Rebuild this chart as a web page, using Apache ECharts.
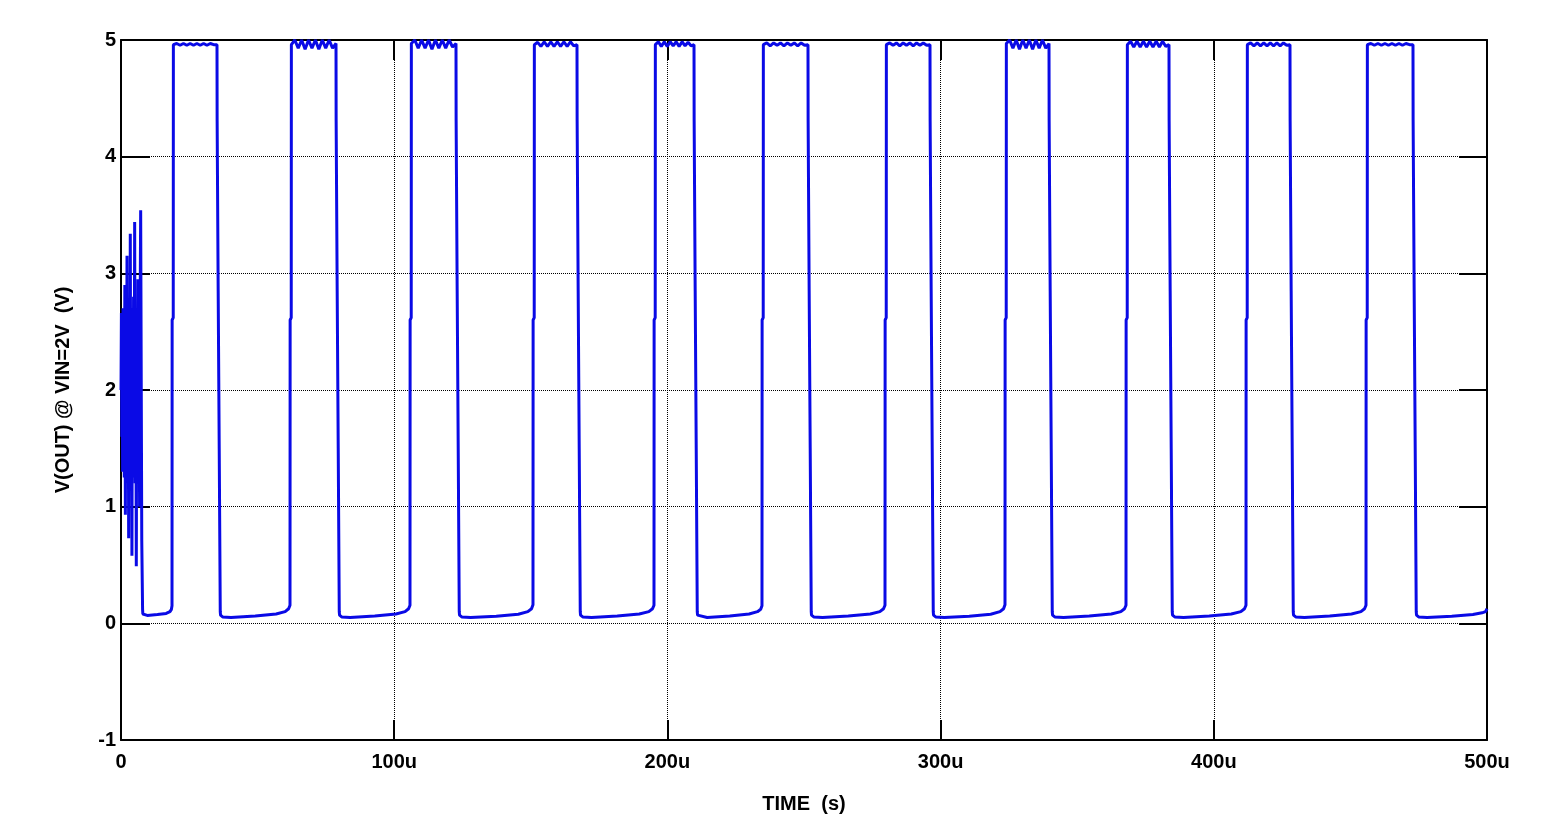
<!DOCTYPE html>
<html>
<head>
<meta charset="utf-8">
<title>V(OUT) @ VIN=2V</title>
<script src="https://cdn.jsdelivr.net/npm/echarts@6/dist/echarts.min.js"></script>
<style>
  html, body { margin: 0; background: #fff; }
  #chart { width: 1551px; height: 836px; }
</style>
</head>
<body>
<div id="chart"></div>
<script>
// axis ticks (time in µs, volts)
const timeTicks = [0, 100, 200, 300, 400, 500]
const voltTicks = [-1, 0, 1, 2, 3, 4, 5]

// start-up ringing
const startT = [0, 0.15, 0.3, 0.45, 0.6, 0.75, 0.9, 1.05, 1.2, 1.4, 1.6, 1.8, 2.0, 2.2, 2.4, 2.6, 2.8, 3.0, 3.2, 3.4,
  3.6, 3.8, 4.0, 4.2, 4.4, 4.6, 4.8, 5.0, 5.2, 5.4, 5.6, 5.8, 6.0, 6.2, 6.4, 6.6, 6.8, 7.0, 7.2, 7.6, 7.9]
const startV = [2.0, 2.66, 1.6, 2.5, 1.3, 2.7, 1.45, 2.6, 1.25, 2.9, 0.93, 2.7, 1.2, 3.15, 1.35, 2.65, 0.73, 2.75, 1.3, 3.34,
  1.2, 2.7, 0.58, 2.6, 1.25, 2.8, 1.35, 3.44, 1.2, 2.6, 0.49, 2.7, 1.3, 2.95, 1.25, 2.6, 1.0, 2.7, 3.54, 0.71, 0.12]

// edges of each pulse (µs)
const riseT = [18.67, 61.86, 105.78, 150.8, 195.09, 234.62, 279.65, 323.57, 367.86, 411.78, 455.71]
const fallT = [35.14, 78.7, 122.62, 166.91, 209.74, 251.46, 296.12, 339.68, 383.6, 427.89, 472.91]
const riseStep = 2.6
const fallSteps = [4.31, 2.85, 1.5]

// plateau of each pulse (V), spread over the high time
const topV = [
  [4.96, 4.97, 4.955, 4.97, 4.955, 4.97, 4.955, 4.97, 4.955, 4.97, 4.955, 4.97, 4.96, 4.96],
  [4.96, 5.0, 4.93, 5.0, 4.92, 5.0, 4.93, 5.0, 4.92, 5.0, 4.93, 5.0, 4.93, 4.97],
  [4.97, 5.0, 4.93, 5.0, 4.93, 5.0, 4.92, 5.0, 4.93, 5.0, 4.93, 5.0, 4.94, 4.97],
  [4.96, 4.98, 4.945, 4.985, 4.945, 4.985, 4.945, 4.985, 4.945, 4.985, 4.945, 4.985, 4.95, 4.96],
  [4.96, 4.985, 4.945, 4.985, 4.945, 4.985, 4.95, 4.985, 4.945, 4.985, 4.95, 4.98, 4.95, 4.96],
  [4.96, 4.975, 4.95, 4.975, 4.955, 4.975, 4.95, 4.975, 4.955, 4.975, 4.95, 4.975, 4.955, 4.96],
  [4.96, 4.975, 4.955, 4.975, 4.95, 4.975, 4.955, 4.975, 4.95, 4.975, 4.955, 4.975, 4.955, 4.96],
  [4.97, 5.0, 4.93, 5.0, 4.92, 5.0, 4.93, 5.0, 4.92, 5.0, 4.93, 5.0, 4.93, 4.97],
  [4.96, 4.99, 4.94, 4.99, 4.94, 4.99, 4.94, 4.99, 4.94, 4.99, 4.94, 4.99, 4.945, 4.96],
  [4.96, 4.975, 4.95, 4.975, 4.95, 4.975, 4.95, 4.975, 4.95, 4.975, 4.95, 4.975, 4.955, 4.96],
  [4.96, 4.97, 4.955, 4.97, 4.955, 4.97, 4.955, 4.97, 4.955, 4.97, 4.955, 4.97, 4.96, 4.96]
]

// low level between pulses (V), at fractions of each gap
const lowAt = [0, 0.03, 0.15, 0.5, 0.8, 0.93, 0.98, 1]
const lowV = [
  [0.08, 0.07, 0.068, 0.075, 0.085, 0.1, 0.12, 0.15],
  [0.07, 0.055, 0.05, 0.062, 0.08, 0.1, 0.125, 0.155],
  [0.07, 0.055, 0.05, 0.062, 0.08, 0.1, 0.125, 0.155],
  [0.07, 0.055, 0.05, 0.06, 0.078, 0.1, 0.125, 0.16],
  [0.07, 0.055, 0.05, 0.062, 0.08, 0.1, 0.125, 0.155],
  [0.07, 0.055, 0.05, 0.062, 0.08, 0.1, 0.12, 0.15],
  [0.07, 0.055, 0.05, 0.062, 0.08, 0.1, 0.125, 0.155],
  [0.07, 0.055, 0.05, 0.06, 0.078, 0.1, 0.125, 0.16],
  [0.07, 0.055, 0.05, 0.062, 0.08, 0.1, 0.125, 0.155],
  [0.07, 0.055, 0.05, 0.062, 0.08, 0.1, 0.125, 0.155],
  [0.07, 0.055, 0.05, 0.062, 0.08, 0.1, 0.125, 0.155],
  [0.07, 0.055, 0.05, 0.06, 0.075, 0.09, 0.1, 0.125]
]

const endT = 500

// assemble the trace
const points = startT.map((t, i) => [t, startV[i]])
let lowStart = startT[startT.length - 1] + 0.1
riseT.forEach((r, i) => {
  lowAt.forEach((p, k) => points.push([lowStart + p * (r - lowStart), lowV[i][k]]))
  points.push([r + 0.05, riseStep], [r + 0.45, riseStep + 0.02])
  const top = topV[i], t0 = r + 0.5, f = fallT[i]
  top.forEach((v, k) => points.push([t0 + (k / (top.length - 1)) * (f - t0), v]))
  let t = f
  fallSteps.forEach(v => {
    points.push([t + 0.05, v], [t + 0.38, v - 0.01])
    t += 0.38
  })
  points.push([t + 0.05, 0.1])
  lowStart = t + 0.15
})
lowAt.forEach((p, k) => points.push([lowStart + p * (endT - lowStart), lowV[riseT.length][k]]))

const chart = echarts.init(document.getElementById('chart'))

const labelFont = {
  color: '#000',
  fontFamily: 'Liberation Sans, Arial, sans-serif',
  fontWeight: 'bold',
  fontSize: 20,
}
const frame = { show: true, onZero: false, lineStyle: { color: '#000', width: 2 } }
const dotted = { show: true, lineStyle: { color: '#000', width: 1, type: [1, 1] } }

chart.setOption({
  animation: false,
  backgroundColor: '#fff',
  grid: { left: 121, right: 64, top: 40, bottom: 96 },
  xAxis: [
    {
      type: 'value',
      min: timeTicks[0],
      max: timeTicks[timeTicks.length - 1],
      interval: 100,
      name: 'TIME  (s)',
      nameLocation: 'middle',
      nameGap: 54,
      nameTextStyle: { ...labelFont },
      axisLine: frame,
      axisTick: { show: true, inside: true, length: 20, lineStyle: { color: '#000', width: 2 } },
      axisLabel: {
        ...labelFont,
        margin: 12,
        showMinLabel: true,
        showMaxLabel: true,
        formatter: v => (v === 0 ? '0' : v + 'u'),
      },
      splitLine: dotted,
    },
    {
      type: 'value',
      position: 'top',
      min: timeTicks[0],
      max: timeTicks[timeTicks.length - 1],
      interval: 100,
      axisLine: frame,
      axisTick: { show: true, inside: true, length: 20, lineStyle: { color: '#000', width: 2 } },
      axisLabel: { show: false },
      splitLine: { show: false },
    },
  ],
  yAxis: [
    {
      type: 'value',
      min: voltTicks[0],
      max: voltTicks[voltTicks.length - 1],
      interval: 1,
      name: 'V(OUT) @ VIN=2V  (V)',
      nameLocation: 'middle',
      nameGap: 48,
      nameTextStyle: { ...labelFont },
      axisLine: frame,
      axisTick: { show: true, inside: true, length: 29, lineStyle: { color: '#000', width: 2 } },
      axisLabel: { ...labelFont, margin: 5, showMinLabel: true, showMaxLabel: true },
      splitLine: dotted,
    },
    {
      type: 'value',
      position: 'right',
      min: voltTicks[0],
      max: voltTicks[voltTicks.length - 1],
      interval: 1,
      axisLine: frame,
      axisTick: { show: true, inside: true, length: 28, lineStyle: { color: '#000', width: 2 } },
      axisLabel: { show: false },
      splitLine: { show: false },
    },
  ],
  series: [
    {
      name: 'V(OUT)',
      type: 'line',
      data: points,
      showSymbol: false,
      clip: true,
      lineStyle: { color: '#0a0ae6', width: 3 },
    },
  ],
})
</script>
</body>
</html>
